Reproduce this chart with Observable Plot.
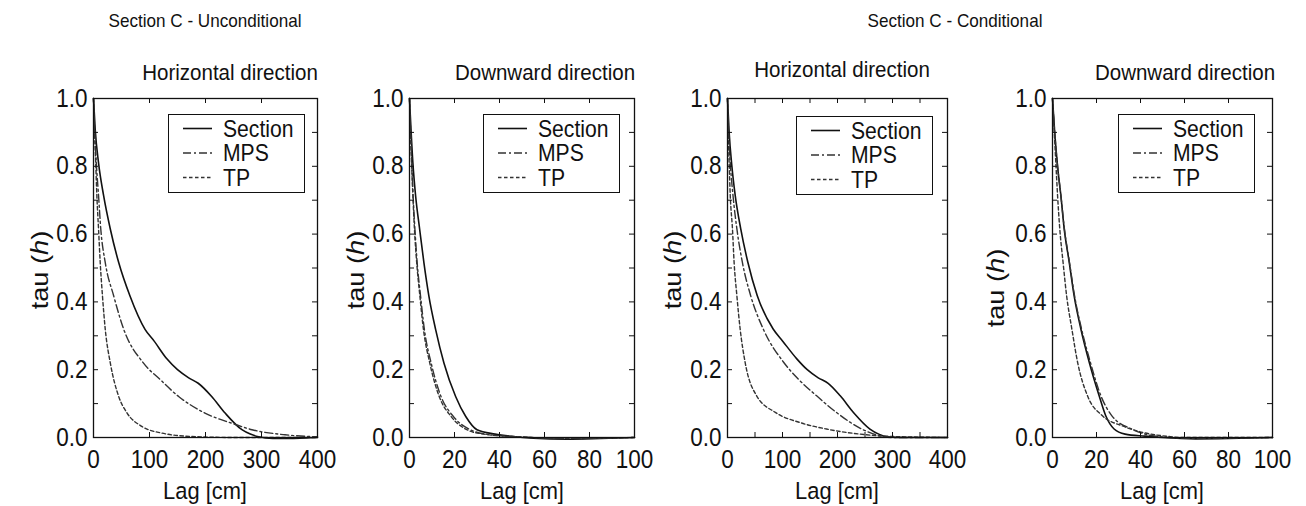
<!DOCTYPE html>
<html>
<head>
<meta charset="utf-8">
<script src="https://cdn.jsdelivr.net/npm/d3@7"></script>
<script src="https://cdn.jsdelivr.net/npm/@observablehq/plot@0.6"></script>
<style>
  body { margin: 0; background: #fff; }
  #root { position: relative; width: 1306px; height: 506px; overflow: hidden; font-family: 'Liberation Sans', Arial, Helvetica, sans-serif; color: #111; }
  .abs { position: absolute; white-space: nowrap; line-height: 1; }
</style>
</head>
<body>
<div id="root"></div>
<script>
// ---------------- data ----------------
const seriesNames = ["Section", "MPS", "TP"];
const groupTitles = ["Section C - Unconditional", "Section C - Conditional"];
const panelTitles = ["Horizontal direction", "Downward direction", "Horizontal direction", "Downward direction"];
const yTickValues = [0, 0.1, 0.2, 0.3, 0.4, 0.5, 0.6, 0.7, 0.8, 0.9, 1.0];
const yTickLabels = [0, 0.2, 0.4, 0.6, 0.8, 1.0];
const xTickLabelsH = [0, 100, 200, 300, 400];
const xTickLabelsD = [0, 20, 40, 60, 80, 100];
const xTicksH1 = [100, 200, 300];
const xTicksH2 = [50, 100, 150, 200, 250, 300, 350];
const xTicksD = [20, 40, 60, 80];

// Panel 1: Unconditional, horizontal
const uhSectionLag = [0, 3, 9, 18, 30, 45, 65, 92, 108, 131, 150, 170, 187, 211, 235, 265, 280, 295, 320, 350, 380, 400];
const uhSectionTau = [1.0, 0.91, 0.81, 0.714, 0.615, 0.516, 0.418, 0.319, 0.285, 0.232, 0.2, 0.176, 0.16, 0.121, 0.072, 0.023, 0.01, 0.002, -0.003, -0.003, -0.001, 0];
const uhMpsLag = [0, 2, 5, 9, 13, 21, 36, 54, 89, 119, 152, 199, 247, 283, 342, 400];
const uhMpsTau = [1.0, 0.91, 0.81, 0.714, 0.615, 0.516, 0.418, 0.319, 0.22, 0.171, 0.121, 0.072, 0.042, 0.023, 0.008, 0.002];
const uhTpLag = [0, 2, 4, 6, 9, 12, 16, 21, 30, 45, 60, 86, 122, 175, 250, 400];
const uhTpTau = [1.0, 0.9, 0.81, 0.714, 0.615, 0.516, 0.418, 0.319, 0.22, 0.121, 0.072, 0.033, 0.013, 0.003, 0.0, 0];

// Panel 2: Unconditional, downward
const udSectionLag = [0, 1.5, 2.7, 4.5, 6.4, 8.6, 11.6, 15.3, 20.5, 25, 30, 38, 46, 55, 70, 85, 100];
const udSectionTau = [1.0, 0.81, 0.714, 0.615, 0.516, 0.418, 0.319, 0.22, 0.121, 0.062, 0.023, 0.01, 0.003, -0.002, -0.005, -0.003, 0];
const udMpsLag = [0, 0.8, 1.6, 2.4, 3.4, 4.9, 6.6, 9.6, 14, 19.5, 27, 34, 49, 70, 100];
const udMpsTau = [1.0, 0.85, 0.714, 0.615, 0.516, 0.418, 0.319, 0.22, 0.121, 0.062, 0.023, 0.01, 0.002, -0.003, 0];
const udTpLag = [0, 0.7, 1.5, 2.2, 3.2, 4.6, 6.2, 9.0, 13.2, 18.5, 25.5, 33, 48, 70, 100];
const udTpTau = [1.0, 0.85, 0.714, 0.615, 0.516, 0.418, 0.319, 0.22, 0.121, 0.062, 0.023, 0.01, 0.002, -0.002, 0];

// Panel 3: Conditional, horizontal
const chSectionLag = [0, 3, 8, 14, 24, 37, 54, 83, 100, 126, 145, 165, 183, 205, 229, 259, 275, 290, 310, 400];
const chSectionTau = [1.0, 0.9, 0.8, 0.714, 0.616, 0.517, 0.419, 0.32, 0.285, 0.232, 0.2, 0.176, 0.16, 0.123, 0.074, 0.025, 0.01, 0.002, 0, 0];
const chMpsLag = [0, 2, 5, 10, 17, 27, 42, 65, 102, 129, 162, 198, 244, 277, 300, 400];
const chMpsTau = [1.0, 0.9, 0.81, 0.714, 0.616, 0.517, 0.419, 0.32, 0.222, 0.172, 0.123, 0.074, 0.025, 0.005, 0, 0];
const chTpLag = [0, 1.5, 3, 5, 9, 12, 17, 23, 32, 53, 87, 132, 180, 241, 301, 400];
const chTpTau = [1.0, 0.9, 0.81, 0.714, 0.616, 0.517, 0.419, 0.32, 0.222, 0.123, 0.074, 0.044, 0.025, 0.01, 0.003, 0];

// Panel 4: Conditional, downward
const cdSectionLag = [0, 1, 2.3, 3.8, 5.3, 7.6, 9.8, 12.9, 16.7, 21.2, 24.2, 28, 33, 42, 50, 65, 80, 100];
const cdSectionTau = [1.0, 0.9, 0.8, 0.714, 0.616, 0.517, 0.419, 0.32, 0.222, 0.123, 0.064, 0.025, 0.01, 0.004, 0.0, -0.004, -0.003, 0];
const cdMpsLag = [0, 1, 2.3, 3.8, 5.4, 7.7, 10, 13.2, 17.2, 22, 27, 36, 42, 48, 60, 80, 100];
const cdMpsTau = [1.0, 0.9, 0.8, 0.714, 0.616, 0.517, 0.419, 0.32, 0.222, 0.123, 0.064, 0.025, 0.01, 0.003, -0.002, -0.002, 0];
const cdTpLag = [0, 0.8, 1.6, 2.3, 3.3, 4.8, 6.4, 8.8, 11.4, 15.9, 22.7, 31.8, 41, 50, 60, 100];
const cdTpTau = [1.0, 0.9, 0.8, 0.714, 0.616, 0.517, 0.419, 0.32, 0.222, 0.123, 0.064, 0.034, 0.015, 0.005, 0, 0];

// ---------------- layout ----------------
const FONT = "'Liberation Sans', Arial, Helvetica, sans-serif";
const SQ = 0.9; // horizontal condensing of text (reference glyphs are tall/narrow)
const root = document.getElementById("root");
const styles = {
  Section: {stroke: "#111", strokeWidth: 1.6, dash: null},
  MPS: {stroke: "#333", strokeWidth: 1.4, dash: "8,3,2,3"},
  TP: {stroke: "#333", strokeWidth: 1.4, dash: "3.5,2.5"}
};

function rows(lag, tau) { return lag.map((l, i) => ({lag: l, tau: tau[i]})); }

const panels = [
  {left: 93, top: 98, w: 224, h: 339, xmax: 400, xLabels: xTickLabelsH, xTicks: xTicksH1,
   data: {Section: rows(uhSectionLag, uhSectionTau), MPS: rows(uhMpsLag, uhMpsTau), TP: rows(uhTpLag, uhTpTau)},
   title: panelTitles[0], titleX: 230, titleY: 72, yLabX: 40, yLabY: 270, legend: [168, 114]},
  {left: 409, top: 98, w: 225, h: 339, xmax: 100, xLabels: xTickLabelsD, xTicks: xTicksD,
   data: {Section: rows(udSectionLag, udSectionTau), MPS: rows(udMpsLag, udMpsTau), TP: rows(udTpLag, udTpTau)},
   title: panelTitles[1], titleX: 545, titleY: 72, yLabX: 356, yLabY: 270, legend: [483, 114]},
  {left: 727, top: 98, w: 220, h: 339, xmax: 400, xLabels: xTickLabelsH, xTicks: xTicksH2,
   data: {Section: rows(chSectionLag, chSectionTau), MPS: rows(chMpsLag, chMpsTau), TP: rows(chTpLag, chTpTau)},
   title: panelTitles[2], titleX: 842, titleY: 69, yLabX: 673, yLabY: 270, legend: [796, 116]},
  {left: 1052, top: 98, w: 220, h: 339, xmax: 100, xLabels: xTickLabelsD, xTicks: xTicksD,
   data: {Section: rows(cdSectionLag, cdSectionTau), MPS: rows(cdMpsLag, cdMpsTau), TP: rows(cdTpLag, cdTpTau)},
   title: panelTitles[3], titleX: 1185, titleY: 72, yLabX: 996, yLabY: 288, legend: [1118, 114]}
];

function addText(html, cx, cy, size, rotate) {
  const d = document.createElement("div");
  d.className = "abs";
  d.innerHTML = html;
  d.style.fontSize = size + "px";
  d.style.left = cx + "px";
  d.style.top = cy + "px";
  d.style.transform = "translate(-50%,-50%)" + (rotate ? ` rotate(-90deg) scale(${1 / SQ},1)` : ` scale(${SQ},1)`);
  root.appendChild(d);
}

function addLegend(x, y) {
  const ns = "http://www.w3.org/2000/svg";
  const svg = document.createElementNS(ns, "svg");
  svg.setAttribute("width", 137); svg.setAttribute("height", 79);
  svg.style.position = "absolute"; svg.style.left = x + "px"; svg.style.top = y + "px";
  const rect = document.createElementNS(ns, "rect");
  rect.setAttribute("x", 0.5); rect.setAttribute("y", 0.5);
  rect.setAttribute("width", 136); rect.setAttribute("height", 78);
  rect.setAttribute("fill", "#fff"); rect.setAttribute("stroke", "#111");
  svg.appendChild(rect);
  seriesNames.forEach((name, i) => {
    const cy = 14.5 + 24.5 * i;
    const st = styles[name];
    const ln = document.createElementNS(ns, "line");
    ln.setAttribute("x1", 15); ln.setAttribute("x2", 44);
    ln.setAttribute("y1", cy); ln.setAttribute("y2", cy);
    ln.setAttribute("stroke", st.stroke); ln.setAttribute("stroke-width", st.strokeWidth);
    if (st.dash) ln.setAttribute("stroke-dasharray", st.dash);
    svg.appendChild(ln);
    const t = document.createElementNS(ns, "text");
    t.setAttribute("transform", `translate(55,${cy + 8.2}) scale(${SQ},1)`);
    t.setAttribute("font-size", 23.5); t.setAttribute("font-family", FONT); t.setAttribute("fill", "#111");
    t.textContent = name;
    svg.appendChild(t);
  });
  root.appendChild(svg);
}

function condenseTickLabels(chart) {
  chart.querySelectorAll('g[aria-label$="tick label"] text').forEach(t => {
    const tr = t.getAttribute("transform");
    if (tr) {
      t.setAttribute("transform", tr + ` scale(${SQ},1)`);
    } else {
      const x = t.getAttribute("x") || 0, y = t.getAttribute("y") || 0;
      t.removeAttribute("x"); t.removeAttribute("y");
      t.setAttribute("transform", `translate(${x},${y}) scale(${SQ},1)`);
    }
  });
}

const mL = 60, mR = 12, mT = 8, mB = 40;
panels.forEach(p => {
  const lines = seriesNames.map(name => Plot.line(p.data[name], {
    x: "lag", y: "tau", curve: "monotone-x",
    stroke: styles[name].stroke, strokeWidth: styles[name].strokeWidth,
    strokeDasharray: styles[name].dash || undefined
  }));
  const chart = Plot.plot({
    width: p.w + mL + mR, height: p.h + mT + mB,
    marginLeft: mL, marginRight: mR, marginTop: mT, marginBottom: mB,
    style: {fontSize: "25px", fontFamily: FONT, color: "#111", background: "transparent", overflow: "visible"},
    x: {domain: [0, p.xmax], ticks: p.xLabels, tickSize: 0, tickPadding: 13, label: null, tickFormat: d => String(d)},
    y: {domain: [0, 1], ticks: yTickLabels, tickSize: 0, tickPadding: 6, label: null, tickFormat: d => d.toFixed(1)},
    marks: [
      ...lines,
      Plot.ruleX(p.xTicks, {x: d => d, insetBottom: p.h - 5, stroke: "#111"}),
      Plot.ruleX(p.xTicks, {x: d => d, insetTop: p.h - 5, stroke: "#111"}),
      Plot.ruleY(yTickValues, {y: d => d, insetRight: p.w - 5, stroke: "#111"}),
      Plot.ruleY(yTickValues, {y: d => d, insetLeft: p.w - 5, stroke: "#111"}),
      Plot.frame({stroke: "#111", strokeWidth: 1.3})
    ]
  });
  condenseTickLabels(chart);
  chart.style.position = "absolute";
  chart.style.left = (p.left - mL) + "px";
  chart.style.top = (p.top - mT) + "px";
  root.appendChild(chart);
  addLegend(p.legend[0], p.legend[1]);
  addText(p.title, p.titleX, p.titleY, 22.8, false);
  addText("Lag [cm]", p.left + p.w / 2, 491, 24.3, false);
  addText("tau (<i>h</i>)", p.yLabX, p.yLabY, 24.5, true);
});

addText(groupTitles[0], 205, 20, 19, false);
addText(groupTitles[1], 955, 20, 19, false);
</script>
</body>
</html>
